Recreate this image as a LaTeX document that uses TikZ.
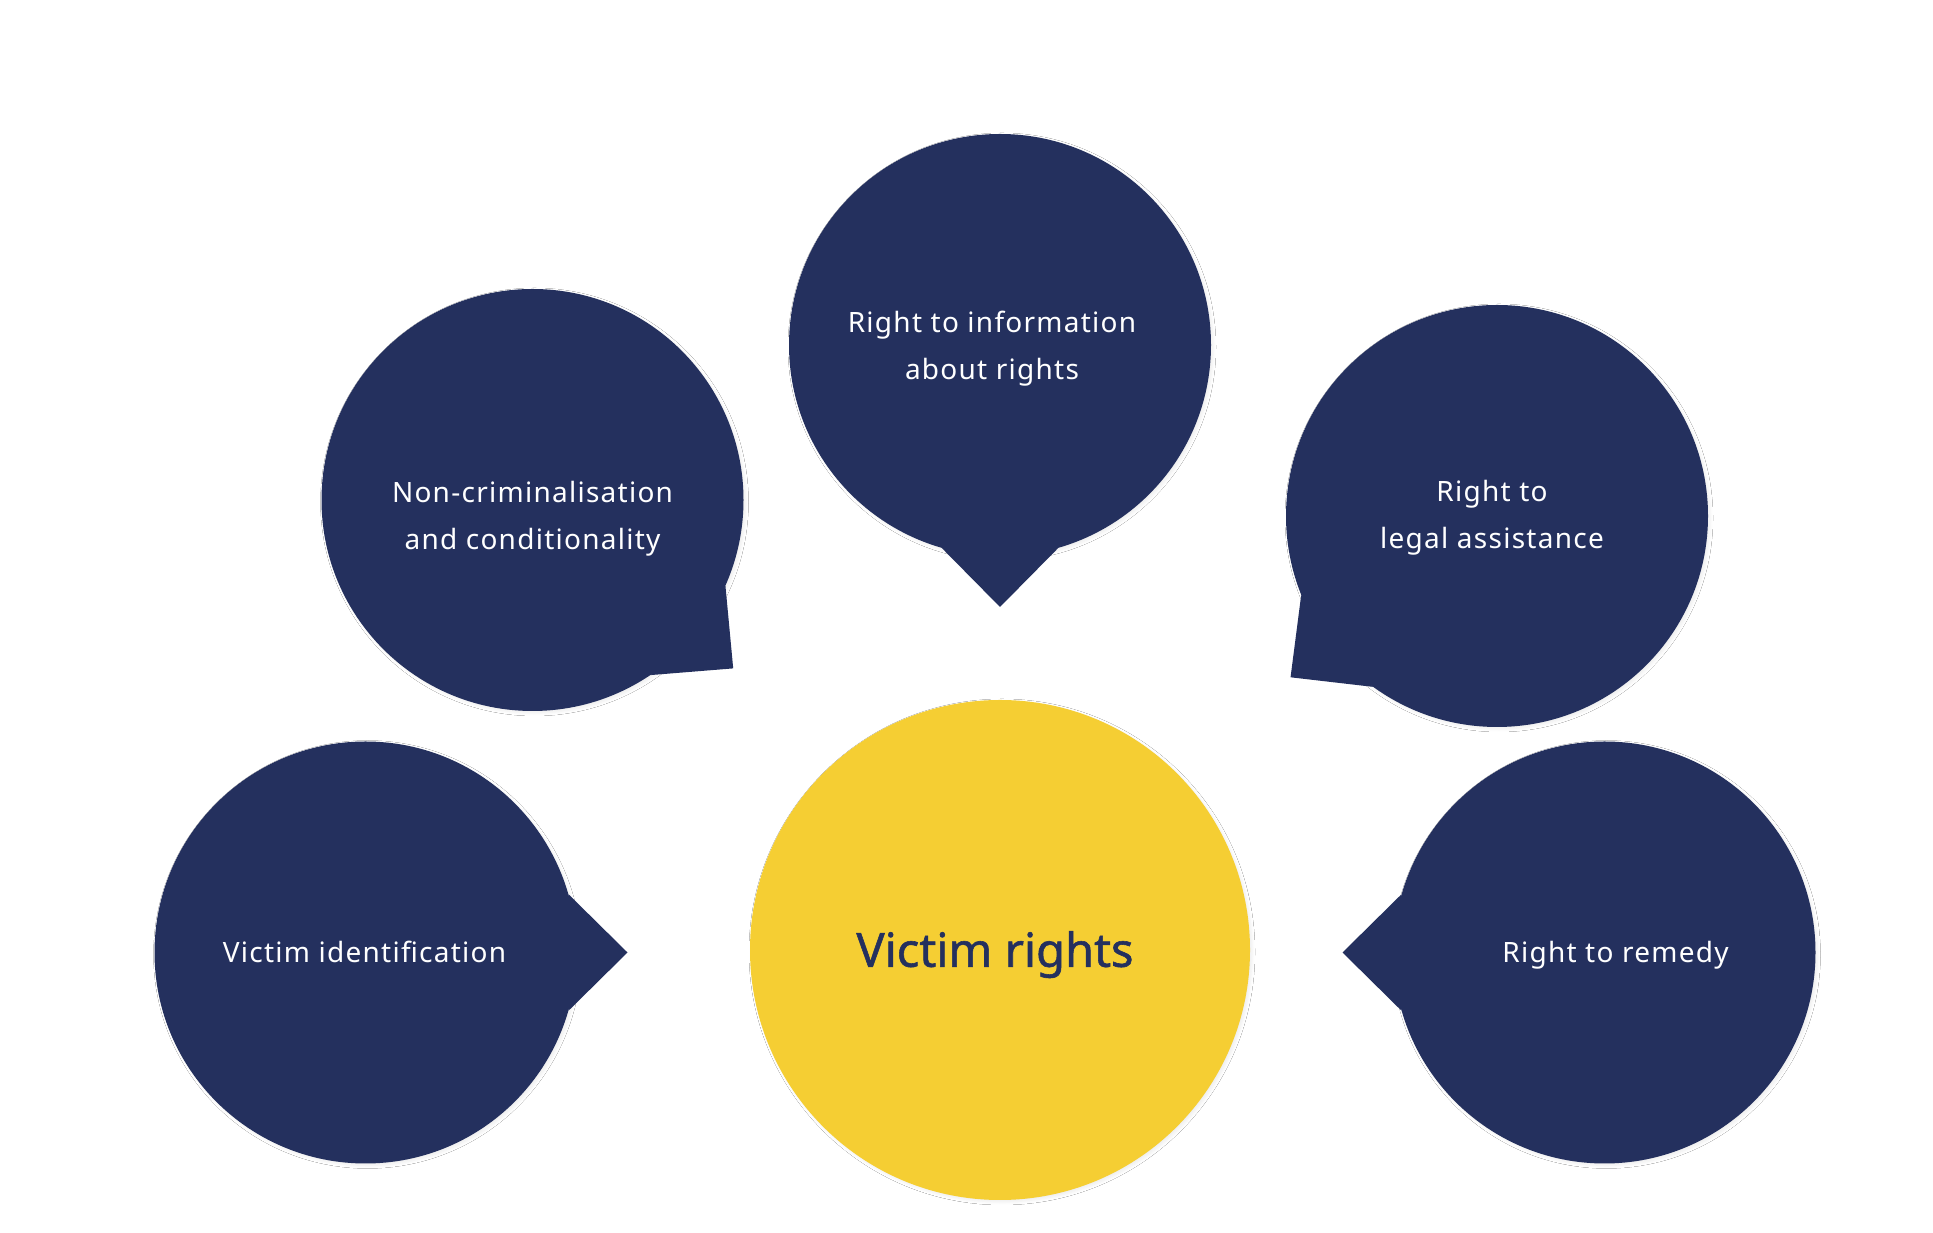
\documentclass[tikz,border=0pt]{standalone}
\usepackage{fontspec}
\setmainfont{Noto Sans}
\newfontfamily\balaofont[LetterSpace=4.5]{Noto Sans}
\newfontfamily\titulofont[FakeBold=1.2]{Noto Sans}
\usetikzlibrary{shadows.blur}
\definecolor{navy}{HTML}{24305E}
\definecolor{gold}{HTML}{F5CE33}

\begin{document}
\begin{tikzpicture}[x=1pt, y=1pt,
	sombra/.style={blur shadow={shadow xshift=2pt, shadow yshift=-2pt, shadow blur radius=3pt, shadow opacity=7}},
	balao/.style={circle, fill=navy, minimum size=422pt, inner sep=0pt, sombra},
	centro/.style={circle, fill=gold, minimum size=500pt, inner sep=0pt, sombra},
	texto/.style={text=white, align=center, font={\balaofont\fontsize{28pt}{47pt}\selectfont}, text height=20pt, text depth=0pt, inner sep=0pt},
	titulo/.style={text=navy, font={\titulofont\fontsize{47pt}{56pt}\selectfont}, text height=33.6pt, text depth=0pt, inner sep=0pt}] %Início do diagrama e estilos
	\path[use as bounding box, fill=white] (0,0) rectangle (1933,1233); %Fundo e margens
		%Balões
	\node[centro] (rights) at (1000,283) {}; %Balão central
	\node[balao] (ident) at (365.5,280.5) {};
	\node[balao] (noncrim) at (532.5,733) {};
	\node[balao] (info) at (1000,888) {};
	\node[balao] (legal) at (1497,717) {};
	\node[balao] (remedy) at (1604.5,280.5) {};
		%Pontas dos balões
	\fill[navy] (ident.16) -- ([shift={(0:262)}]ident.center) -- (ident.344) -- cycle;
	\fill[navy] (noncrim.336) -- ([shift={(-40:262)}]noncrim.center) -- (noncrim.304) -- cycle;
	\fill[navy] (info.254) -- ([shift={(270:262)}]info.center) -- (info.286) -- cycle;
	\fill[navy] (legal.202) -- ([shift={(218:262)}]legal.center) -- (legal.234) -- cycle;
	\fill[navy] (remedy.164) -- ([shift={(180:262)}]remedy.center) -- (remedy.196) -- cycle;
		%Textos
	\node[titulo] (rightstext) at ([xshift=-5pt]rights.center) {Victim rights};
	\node[texto] (identtext) at ([xshift=-1pt]ident.center) {Victim identification};
	\node[texto] (noncrimtext) at ([yshift=-40pt]noncrim.center) {Non-criminalisation\\and conditionality};
	\node[texto] (infotext) at ([xshift=-8pt, yshift=-25pt]info.center) {Right to information\\about rights};
	\node[texto] (legaltext) at ([xshift=-5pt, yshift=-23pt]legal.center) {Right to\\legal assistance};
	\node[texto] (remedytext) at ([xshift=11pt]remedy.center) {Right to remedy};
\end{tikzpicture}
\end{document}
